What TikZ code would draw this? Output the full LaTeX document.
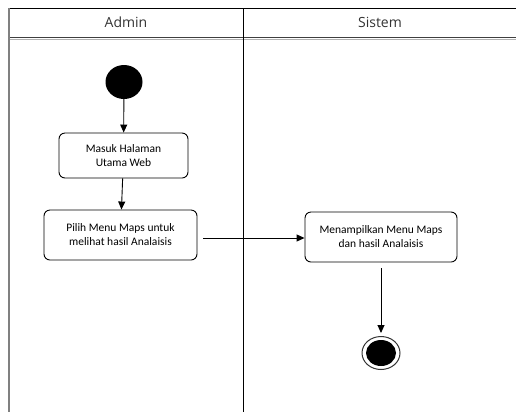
\documentclass[tikz,border=0pt]{standalone}
\usepackage{fontspec}
\setmainfont{Carlito}
\newfontfamily\headfont{Open Sans}
\usetikzlibrary{arrows.meta,shapes.geometric}
\begin{document}
\begin{tikzpicture}[x=1bp,y=-1bp,
  lane/.style={line width=1bp,black},
  action/.style={draw,rounded corners=6bp,line width=0.9bp,align=center,
    font=\fontsize{11.5bp}{14bp}\selectfont,inner sep=0pt},
  flow/.style={line width=0.9bp,-{Triangle[width=7bp,length=8bp]}},
  lanetitle/.style={font=\headfont\fontsize{14bp}{16bp}\selectfont,text=black!80}]
  \useasboundingbox (0,0) rectangle (516,412);
  % swimlane frame
  \draw[lane] (8,8.5) -- (516,8.5);
  \draw[line width=1.2bp,black!75] (8,37.5) -- (516,37.5);
  \draw[line width=1bp,black!30] (8,39) -- (516,39);
  \draw[line width=2bp,black!50] (9,8) -- (9,412);
  \draw[lane] (243.5,8) -- (243.5,412);
  \node[lanetitle] (hadmin) at (126,22) {Admin};
  \node[lanetitle] (hsistem) at (380,22) {Sistem};
  % initial node
  \node[ellipse,fill=black,minimum width=37bp,minimum height=34bp,inner sep=0pt] (start) at (124,82) {};
  % actions
  \node[action,minimum width=129bp,minimum height=45bp] (masuk) at (123.5,155.5) {Masuk Halaman\\Utama Web};
  \node[action,minimum width=153bp,minimum height=50bp] (pilih) at (120.5,235) {Pilih Menu Maps untuk\\melihat hasil Analaisis};
  \node[action,minimum width=152bp,minimum height=50bp] (tampil) at (381,237) {Menampilkan Menu Maps\\dan hasil Analaisis};
  % final node
  \node[ellipse,draw=black!80,line width=1bp,minimum width=38bp,minimum height=33bp,inner sep=0pt] (final) at (381,353) {};
  \node[ellipse,fill=black,minimum width=30bp,minimum height=26bp,inner sep=0pt] (finalcore) at (381,353) {};
  % flows
  \draw[flow] (start) -- (masuk);
  \draw[flow] (masuk) -- (pilih);
  \draw[flow,shorten <=6bp] (pilih.east |- 0,238) -- (tampil.west |- 0,238);
  \draw[flow,shorten <=6bp,shorten >=3bp] (tampil) -- (final);
\end{tikzpicture}
\end{document}
